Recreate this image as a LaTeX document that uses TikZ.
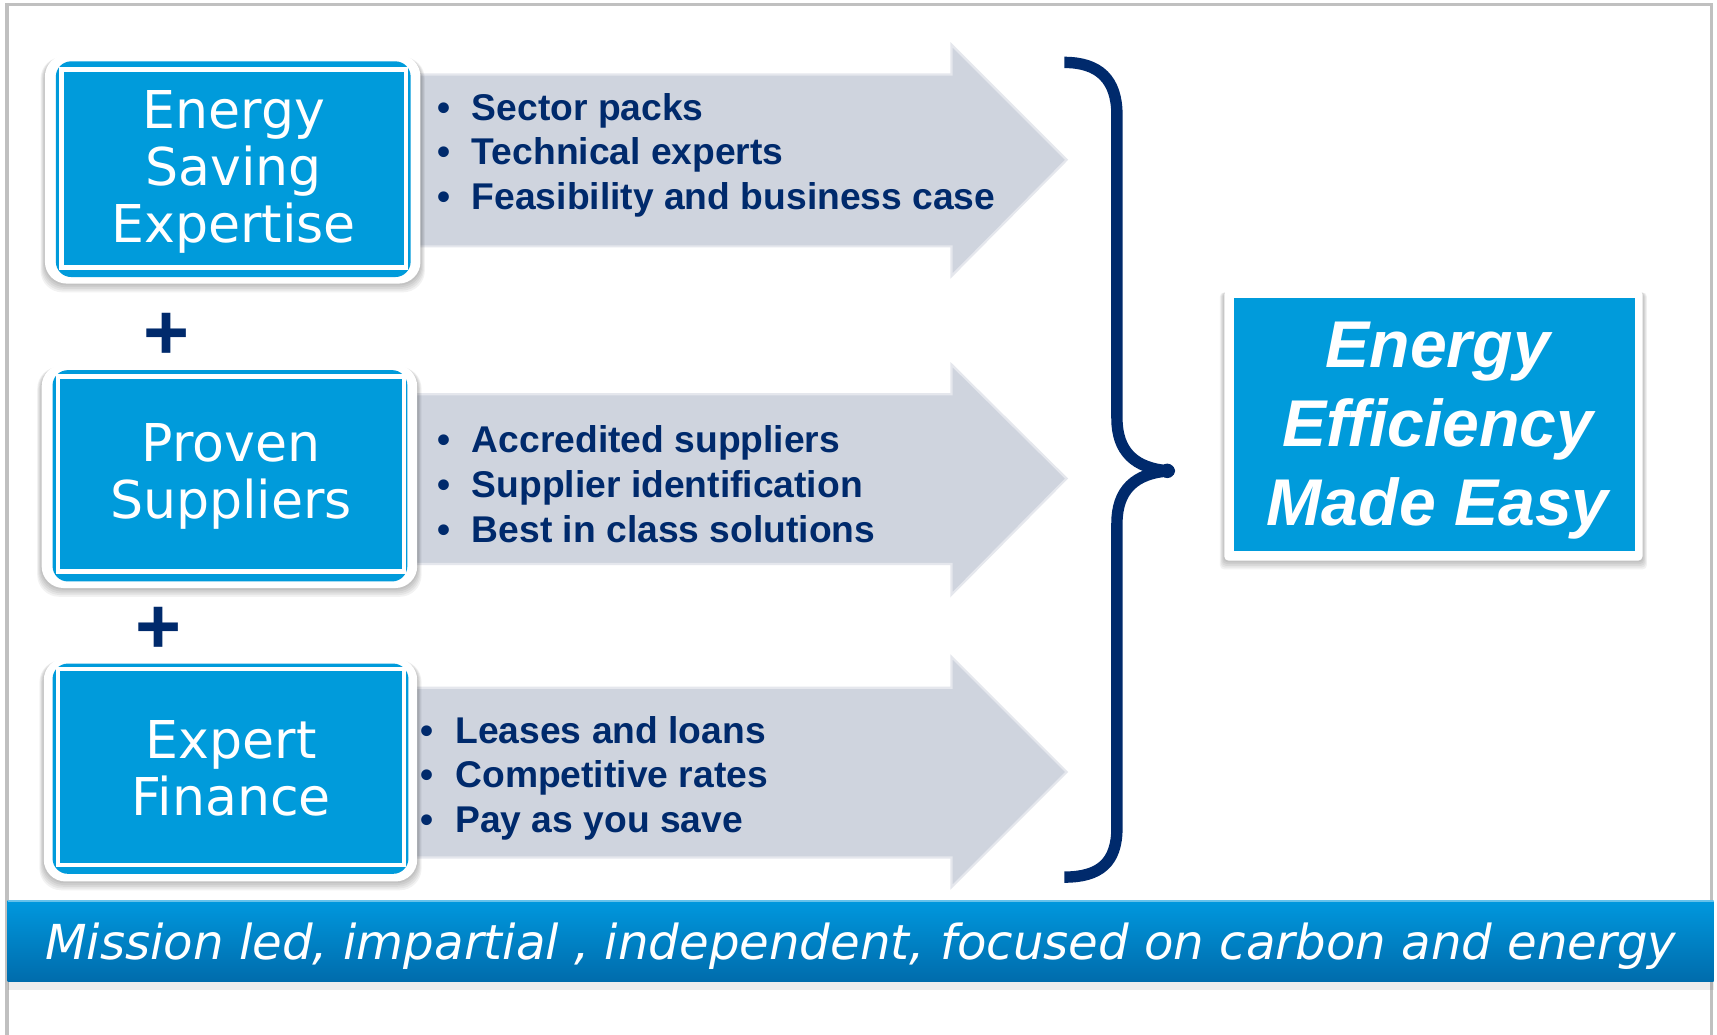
\documentclass[tikz,border=0pt]{standalone}
\usepackage{fontspec}
\setmainfont{Liberation Sans}
\newfontfamily\boxfont{DejaVu Sans}
\usetikzlibrary{shadows}
\definecolor{boxblue}{RGB}{0,155,219}
\definecolor{navyc}{RGB}{0,42,108}
\definecolor{arrowgray}{RGB}{207,212,222}
\definecolor{framegray}{RGB}{192,192,192}
\definecolor{bannertop}{RGB}{0,152,222}
\definecolor{bannerbot}{RGB}{0,108,172}
\newcommand\myitem[1]{\makebox[15.75pt][l]{\textbullet}#1}
% soft shadowed white frame: x1 y1 x2 y2 radius
\newcommand\softframe[5]{%
  \foreach \s in {1,2,3,4,5}{%
    \fill[black, opacity=0.05, rounded corners=#5] ({#1-\s*0.8},{#2+2}) rectangle ({#3+\s*0.8},{#4+\s*1.6});
  }%
  \fill[white, rounded corners=#5] (#1,#2) rectangle (#3,#4);
}
\tikzset{
  bluering/.style={fill=boxblue, rounded corners=7pt},
  whitering/.style={fill=white},
  bluebox/.style={fill=boxblue, text=white, inner sep=0pt, align=center, font=\boxfont\fontsize{23.8}{26}\selectfont},
  arrowshape/.style={fill=arrowgray, draw=arrowgray!55!white, line width=1pt},
  bullettext/.style={text=navyc, inner sep=0pt, anchor=base west, font=\bfseries\fontsize{17}{20.35}\selectfont},
  plussign/.style={text=navyc, font=\bfseries\fontsize{36}{36}\selectfont, inner sep=0pt},
  bracepath/.style={draw=navyc, line width=5.2pt, line join=round},
  resulttext/.style={text=white, inner sep=0pt, align=center, font=\bfseries\itshape\fontsize{30.2}{36}\selectfont},
  bannertext/.style={text=white, inner sep=0pt, font=\boxfont\itshape\fontsize{22}{24}\selectfont}
}
\begin{document}
\begin{tikzpicture}[x=0.5pt,y=-0.5pt]
\useasboundingbox (0,0) rectangle (1568,945);
\fill[white] (0,0) rectangle (1568,945);
% outer frame
\draw[framegray, line width=1.5pt] (6.5,945) -- (6.5,4) -- (1563,4) -- (1563,945);

% arrows
\path[arrowshape] (380,68) -- (869,68) -- (869,41) -- (974,146) -- (869,252) -- (869,225) -- (380,225) -- cycle;
\path[arrowshape] (380,360) -- (869,360) -- (869,333) -- (974,437) -- (869,543) -- (869,515) -- (380,515) -- cycle;
\path[arrowshape] (380,628) -- (869,628) -- (869,600) -- (974,705) -- (869,810) -- (869,783) -- (380,783) -- cycle;

% box 1
\softframe{41}{50}{384}{259}{10pt}
\path[bluering] (51,56) rectangle (375,253);
\path[whitering] (54,61) rectangle (373,247);
\path[fill=boxblue] (58,66) rectangle (369,242);
\node[bluebox] (ese) at (213.5,157) {Energy\\Saving\\Expertise};

% box 2
\softframe{38}{333}{381}{537}{10pt}
\path[bluering] (48,338) rectangle (372,531);
\path[whitering] (51,342) rectangle (371,524);
\path[fill=boxblue] (55,346) rectangle (367,520);
\node[bluebox] (ps) at (211,435.5) {Proven\\Suppliers};

% box 3
\softframe{40}{601}{381}{805}{10pt}
\path[bluering] (48,606) rectangle (373,798);
\path[whitering] (51,609) rectangle (371,792);
\path[fill=boxblue] (55,613) rectangle (367,788);
\node[bluebox] (ef) at (211,702) {Expert\\Finance};

% plus signs
\node[plussign] (plusA) at (152,307) {+};
\node[plussign] (plusB) at (145,576) {+};

% bullet lists
\node[bullettext] (listA) at (399,109.6) {\begin{tabular}[t]{@{}l@{}}\myitem{Sector packs}\\\myitem{Technical experts}\\\myitem{Feasibility and business case}\end{tabular}};
\node[bullettext] (listB) at (399,413.6) {\begin{tabular}[t]{@{}l@{}}\myitem{Accredited suppliers}\\\myitem{Supplier identification}\\\myitem{Best in class solutions}\end{tabular}};
\node[bullettext] (listC) at (384,678.6) {\begin{tabular}[t]{@{}l@{}}\myitem{Leases and loans}\\\myitem{Competitive rates}\\\myitem{Pay as you save}\end{tabular}};

% brace
\draw[bracepath] (972,57) .. controls (1004,57) and (1020,73) .. (1020,105) -- (1020,382) .. controls (1020,412) and (1036,428) .. (1068,430) .. controls (1036,432) and (1020,448) .. (1020,478) -- (1020,756) .. controls (1020,788) and (1004,801) .. (972,801);
\fill[navyc] (1066,430) circle (3.3pt);

% result box
\softframe{1118}{265}{1500}{512}{2pt}
\path[fill=boxblue] (1127,272) rectangle (1493,503);
\node[resulttext] (eeme) at (1313,393.5) {Energy\\Efficiency\\Made Easy};

% banner
\foreach \s in {1,2,3,4}{\fill[black, opacity=0.07] (7,{896-2+\s*2}) rectangle (1565,{896+\s*2});}
\path[top color=bannertop, bottom color=bannerbot] (7,822) rectangle (1565,896);
\draw[white, opacity=0.4, line width=0.8pt] (7,822.5) -- (1565,822.5);
\node[bannertext] (mission) at (786,864) {Mission led, impartial , independent, focused on carbon and energy};
\end{tikzpicture}
\end{document}
